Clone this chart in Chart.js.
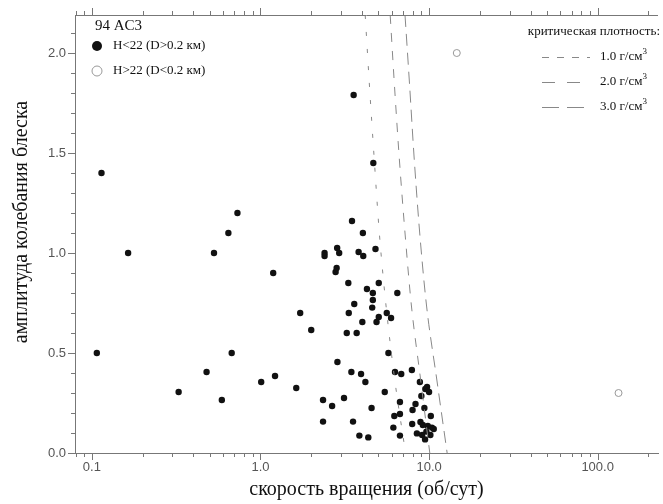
<!DOCTYPE html>
<html>
<head>
<meta charset="utf-8">
<script src="https://cdn.jsdelivr.net/npm/chart.js@4.4.1/dist/chart.umd.min.js"></script>
<style>
  html, body { margin: 0; padding: 0; background: #fff; overflow: hidden; }
  canvas { display: block; }
</style>
</head>
<body>
<canvas id="chart" width="663" height="504"></canvas>
<script>
// bright asteroids H<22 (D>0.2 km): rotation rate (rev/day) and lightcurve amplitude
const brightRate = [
  0.107, 0.114, 0.164, 0.327, 0.479, 0.53, 0.59, 0.645, 0.675, 0.73, 1.01, 1.19, 1.22,
  1.63, 1.72, 2.0, 2.35, 2.35, 2.40, 2.40, 2.66, 2.79, 2.83, 2.85, 2.86, 2.93,
  3.13, 3.25, 3.32, 3.34, 3.46, 3.49, 3.54, 3.57, 3.6, 3.72, 3.82, 3.86, 3.95,
  4.02, 4.05, 4.07, 4.19, 4.28, 4.36, 4.56, 4.6, 4.64, 4.64, 4.67, 4.81, 4.88,
  5.03, 5.03, 5.46, 5.61, 5.74, 5.95, 6.14, 6.22, 6.28, 6.48, 6.72, 6.72, 6.72, 6.84,
  7.91, 7.94, 7.98, 8.31, 8.47, 8.82, 8.89, 9.0, 9.1, 9.18, 9.38, 9.47, 9.5,
  9.64, 9.73, 9.83, 10.0, 10.18, 10.24, 10.4, 10.66
];
const brightAmp = [
  0.50, 1.40, 1.00, 0.305, 0.405, 1.00, 0.265, 1.10, 0.50, 1.20, 0.355, 0.90, 0.385,
  0.325, 0.70, 0.615, 0.265, 0.157, 1.00, 0.985, 0.235, 0.905, 0.925, 1.025, 0.455, 1.00,
  0.275, 0.60, 0.85, 0.70, 0.405, 1.16, 0.157, 1.79, 0.745, 0.60, 1.005, 0.087, 0.395,
  0.655, 1.10, 0.985, 0.355, 0.82, 0.078, 0.225, 0.727, 0.80, 0.765, 1.45, 1.02, 0.655,
  0.85, 0.68, 0.305, 0.70, 0.50, 0.675, 0.127, 0.185, 0.405, 0.80, 0.255, 0.195, 0.087, 0.395,
  0.415, 0.145, 0.215, 0.245, 0.098, 0.355, 0.155, 0.285, 0.09, 0.14, 0.225, 0.068, 0.32,
  0.107, 0.33, 0.135, 0.305, 0.09, 0.185, 0.127, 0.12
];

// faint asteroids H>22 (D<0.2 km)
const faintRate = [14.6, 133];
const faintAmp = [2.0, 0.30];

// critical density curves
const curveAmp = [0, 0.37, 0.74, 1.1, 1.48, 1.85, 2.19];
const rateDensity1 = [7.25, 6.25, 5.55, 5.07, 4.72, 4.42, 4.18];
const rateDensity2 = [10.1, 8.9, 7.85, 7.2, 6.65, 6.22, 5.88];
const rateDensity3 = [12.8, 11.1, 9.65, 8.8, 8.15, 7.65, 7.2];
const densityLabels = ['1.0 г/см', '2.0 г/см', '3.0 г/см'];

const xTicks = [0.1, 1, 10, 100];
const xTickLabels = ['0.1', '1.0', '10.0', '100.0'];
const yTicks = [0, 0.5, 1, 1.5, 2];
const yTickLabels = ['0.0', '0.5', '1.0', '1.5', '2.0'];

const AXIS = '#777';
const SERIF = '"Liberation Serif", "DejaVu Serif", serif';
const SANS = '"Liberation Sans", Arial, sans-serif';

function pts(xs, ys) {
  return xs.map((v, i) => ({ x: v, y: ys[i] }));
}
function curve(rates) {
  return pts(rates, curveAmp).reverse(); // ascending x for monotone spline
}

const curveDash = [[4, 13], [9, 9], [12, 7]];
const legendDash = [[7, 8], [13, 12], [17, 8]];

// ticks, top axis, legends and the y title
const decor = {
  id: 'decor',
  afterDraw(chart) {
    const { ctx, chartArea: a, scales: { x, y } } = chart;
    const seg = (x1, y1, x2, y2) => { ctx.beginPath(); ctx.moveTo(x1, y1); ctx.lineTo(x2, y2); ctx.stroke(); };
    ctx.save();
    ctx.strokeStyle = AXIS;
    ctx.lineWidth = 1;
    seg(a.left, a.top + 0.5, a.right, a.top + 0.5);

    for (let e = -2; e <= 2; e++) {
      for (let k = 1; k <= 9; k++) {
        const v = k * Math.pow(10, e);
        if (v < x.min || v > x.max) continue;
        const px = Math.round(x.getPixelForValue(v)) + 0.5;
        const len = k === 1 ? 7 : 4;
        seg(px, a.bottom, px, a.bottom + len);
        seg(px, a.top, px, a.top - len);
      }
    }
    for (let i = 0; i <= 21; i++) {
      const py = Math.round(y.getPixelForValue(i / 10)) + 0.5;
      const len = i % 5 === 0 ? 7 : 4;
      seg(a.left - len, py, a.left, py);
    }

    // y title
    ctx.save();
    ctx.translate(22, 222);
    ctx.rotate(-Math.PI / 2);
    ctx.fillStyle = '#111';
    ctx.font = '20px ' + SERIF;
    ctx.textAlign = 'center';
    ctx.textBaseline = 'middle';
    ctx.fillText('амплитуда колебания блеска', 0, 0);
    ctx.restore();

    // left legend
    ctx.fillStyle = '#111';
    ctx.textBaseline = 'middle';
    ctx.textAlign = 'left';
    ctx.font = '15px ' + SERIF;
    ctx.fillText('94 AC3', 95, 26);
    ctx.beginPath(); ctx.arc(97, 46, 5, 0, Math.PI * 2); ctx.fill();
    ctx.strokeStyle = '#999';
    ctx.beginPath(); ctx.arc(97, 71, 5, 0, Math.PI * 2); ctx.stroke();
    ctx.font = '13px ' + SERIF;
    ctx.fillText('H<22 (D>0.2 км)', 113, 46);
    ctx.fillText('H>22 (D<0.2 км)', 113, 71);

    // right legend
    ctx.textAlign = 'right';
    ctx.font = '13px ' + SERIF;
    ctx.fillText('критическая плотность:', 660, 32);
    densityLabels.forEach((lbl, i) => {
      const ly = 57 + i * 25;
      ctx.strokeStyle = '#888';
      ctx.setLineDash(legendDash[i]);
      seg(542, ly + 0.5, 590, ly + 0.5);
      ctx.setLineDash([]);
      ctx.textAlign = 'left';
      ctx.font = '13px ' + SERIF;
      ctx.fillText(lbl, 600, ly);
      const w = ctx.measureText(lbl).width;
      ctx.font = '9px ' + SERIF;
      ctx.fillText('3', 600 + w, ly - 5);
    });
    ctx.restore();
  }
};

const lineSet = (rates, i) => ({
  type: 'line',
  data: curve(rates),
  showLine: true,
  borderColor: '#888',
  borderWidth: 1,
  borderDash: curveDash[i],
  pointRadius: 0,
  cubicInterpolationMode: 'monotone',
  fill: false
});

new Chart(document.getElementById('chart').getContext('2d'), {
  type: 'scatter',
  data: {
    datasets: [
      lineSet(rateDensity1, 0),
      lineSet(rateDensity2, 1),
      lineSet(rateDensity3, 2),
      {
        data: pts(brightRate, brightAmp),
        pointRadius: 3.2,
        pointBackgroundColor: '#111',
        pointBorderColor: '#111',
        pointBorderWidth: 0
      },
      {
        data: pts(faintRate, faintAmp),
        pointRadius: 3.5,
        pointBackgroundColor: '#fff',
        pointBorderColor: '#999',
        pointBorderWidth: 1
      }
    ]
  },
  options: {
    responsive: false,
    animation: false,
    devicePixelRatio: 1,
    layout: { padding: { top: 15, right: 0, left: 0, bottom: 0 } },
    plugins: { legend: { display: false }, tooltip: { enabled: false } },
    scales: {
      x: {
        type: 'logarithmic',
        position: 'bottom',
        min: 0.0794,
        max: 228,
        afterBuildTicks: s => { s.ticks = xTicks.map(v => ({ value: v })); },
        afterFit: s => { s.height = 51; },
        grid: { display: true, drawOnChartArea: false, drawTicks: true, tickLength: 7, color: 'rgba(0,0,0,0)' },
        border: { display: true, color: AXIS, width: 1 },
        ticks: {
          autoSkip: false, maxRotation: 0, padding: 0, color: '#555',
          font: { family: SANS, size: 13 },
          callback: (v, i) => xTickLabels[i]
        },
        title: {
          display: true, text: 'скорость вращения (об/сут)', color: '#111',
          font: { family: SERIF, size: 20 }, padding: { top: 0, bottom: 2 }
        }
      },
      y: {
        type: 'linear',
        min: 0,
        max: 2.19,
        afterBuildTicks: s => { s.ticks = yTicks.map(v => ({ value: v })); },
        afterFit: s => { s.width = 75; },
        grid: { display: true, drawOnChartArea: false, drawTicks: true, tickLength: 7, color: 'rgba(0,0,0,0)' },
        border: { display: true, color: AXIS, width: 1 },
        ticks: {
          padding: 2, color: '#555',
          font: { family: SANS, size: 13 },
          callback: (v, i) => yTickLabels[i]
        }
      }
    }
  },
  plugins: [decor]
});
</script>
</body>
</html>
